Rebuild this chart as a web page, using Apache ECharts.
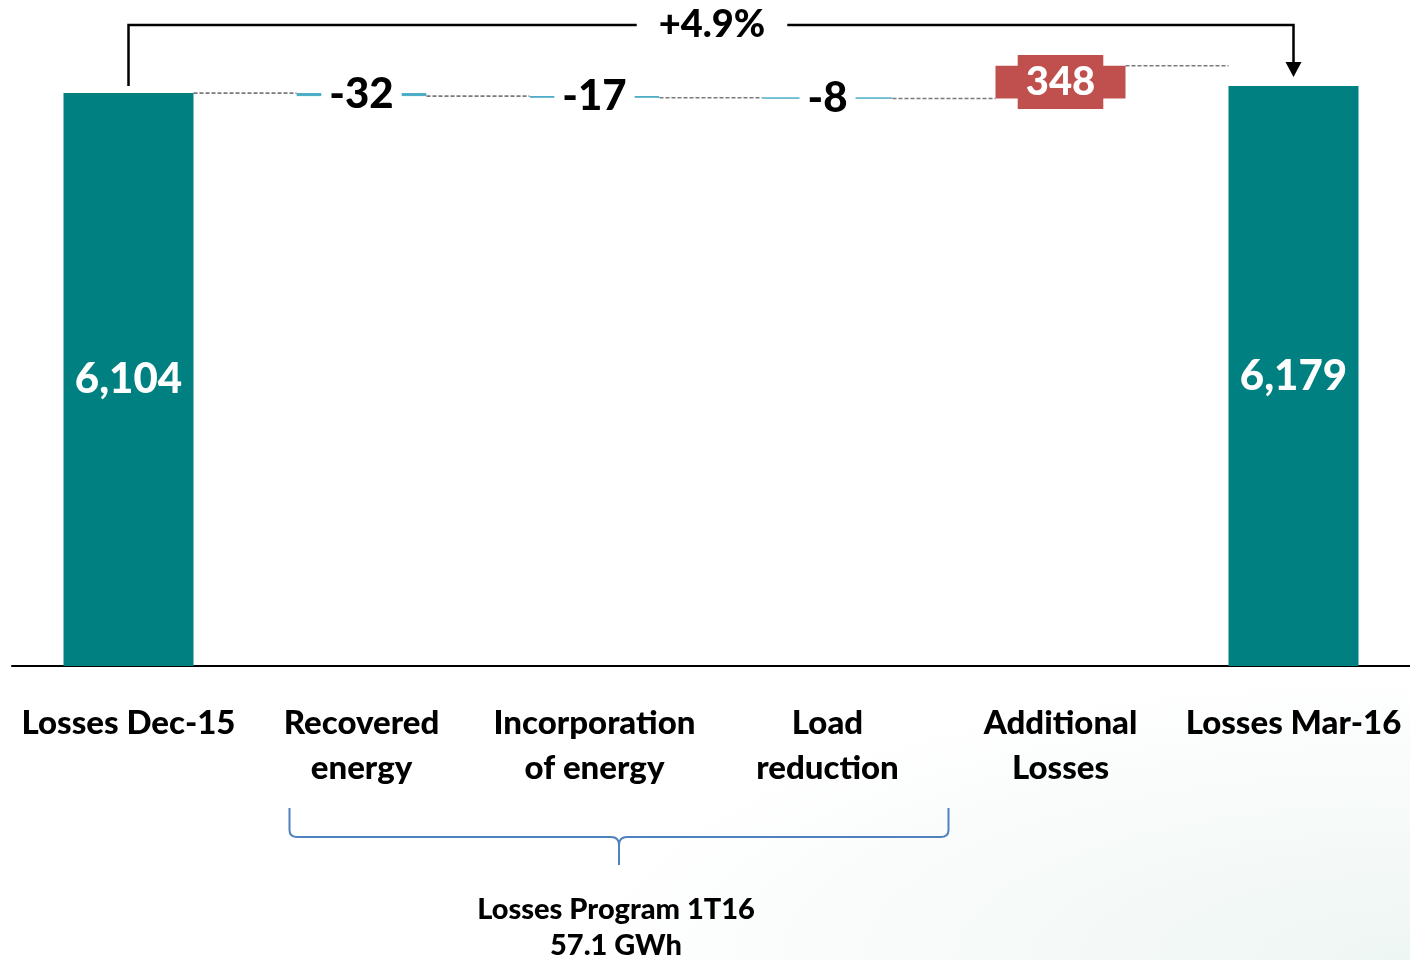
<!DOCTYPE html>
<html>
<head>
<meta charset="utf-8">
<script src="https://cdn.jsdelivr.net/npm/echarts@6/dist/echarts.min.js"></script>
<style>
  html, body { margin: 0; padding: 0; }
  #chart {
    width: 1410px; height: 960px;
    background: radial-gradient(ellipse 60% 30% at 100% 100%, #eef6f3 0%, #f8fbfa 60%, #ffffff 100%);
  }
</style>
</head>
<body>
<div id="chart"></div>
<script>
// Losses bridge: Dec-15 total, program steps, additional losses, Mar-16 total
const categories = ['Losses Dec-15', 'Recovered\nenergy', 'Incorporation\nof energy', 'Load\nreduction', 'Additional\nLosses', 'Losses Mar-16'];
const startValue = 6104;
const endValue = 6179;
const stepValues = [-32, -17, -8, 348];
const changeText = '+4.9%';
const programLines = ['Losses Program 1T16', '57.1 GWh'];

const FONT = 'Lato, "Open Sans", sans-serif';
const W = '900';
const TEAL = '#008080';
const BLUE = '#4BACC6';
const RED = '#C0504D';

// Invisible base + visible segment for each waterfall column
const bases = [0];
const heights = [startValue];
const levels = [startValue];
let running = startValue;
stepValues.forEach(function (d) {
  if (d < 0) { bases.push(running + d); heights.push(-d); }
  else { bases.push(running); heights.push(d); }
  running += d;
  levels.push(running);
});
bases.push(0);
heights.push(endValue);

function fmt(v) { return v.toLocaleString('en-US'); }

const valueData = heights.map(function (h, i) {
  const isTotal = i === 0 || i === heights.length - 1;
  const step = isTotal ? null : stepValues[i - 1];
  let itemStyle = { color: TEAL }, label;
  if (isTotal) {
    label = { show: true, position: 'inside', color: '#fff', fontFamily: FONT, fontWeight: W, fontSize: 42,
              formatter: fmt(i === 0 ? startValue : endValue) };
  } else if (step < 0) {
    itemStyle = { color: BLUE, borderColor: BLUE, borderWidth: 1 };
    label = { show: true, position: 'inside', color: '#000', fontFamily: FONT, fontWeight: W, fontSize: 42,
              backgroundColor: '#fff', padding: [2, 8], formatter: String(step) };
  } else {
    itemStyle = { color: RED };
    label = { show: true, position: 'inside', color: '#fff', fontFamily: FONT, fontWeight: W, fontSize: 40,
              backgroundColor: RED, padding: [8, 8, 6, 8], formatter: String(step) };
  }
  return { value: h, itemStyle: itemStyle, label: label };
});

// Dashed connectors between neighbouring columns
const connectorData = levels.map(function (lv, i) { return [i, lv]; });

const BAR_W = 130;

const chart = echarts.init(document.getElementById('chart'), null, { renderer: 'canvas' });
chart.setOption({
  animation: false,
  backgroundColor: 'transparent',
  grid: { left: 12, right: 0, top: 9, bottom: 294 },
  xAxis: {
    type: 'category',
    data: categories,
    axisLine: { lineStyle: { color: '#000', width: 2 } },
    axisTick: { show: false },
    axisLabel: { color: '#000', fontFamily: FONT, fontWeight: W, fontSize: 33, lineHeight: 45, margin: 35, interval: 0 }
  },
  yAxis: { type: 'value', min: 0, max: 7000, show: false, splitLine: { show: false } },
  series: [
    {
      type: 'bar', stack: 'w', data: bases, barWidth: BAR_W, silent: true,
      itemStyle: { color: 'transparent' }, emphasis: { disabled: true }
    },
    {
      type: 'bar', stack: 'w', data: valueData, barWidth: BAR_W, silent: true,
      emphasis: { disabled: true }, z: 3
    },
    {
      type: 'custom', silent: true, clip: false, z: 2,
      data: connectorData,
      renderItem: function (params, api) {
        const i = api.value(0);
        if (i >= categories.length - 1) return null;
        const a = api.coord([i, api.value(1)]);
        const b = api.coord([i + 1, api.value(1)]);
        return {
          type: 'line',
          shape: { x1: a[0] + BAR_W / 2, y1: a[1], x2: b[0] - BAR_W / 2, y2: a[1] },
          style: { stroke: '#7a7a7a', lineWidth: 1.6, lineDash: [4, 2] }
        };
      }
    },
    {
      // Overall change bracket from the first to the last total
      type: 'custom', silent: true, clip: false, z: 4,
      data: [[0, startValue, categories.length - 1, endValue]],
      renderItem: function (params, api) {
        const p0 = api.coord([api.value(0), api.value(1)]);
        const p1 = api.coord([api.value(2), api.value(3)]);
        const lineY = p0[1] - 68;
        const midX = (p0[0] + p1[0]) / 2;
        return {
          type: 'group',
          children: [
            { type: 'polyline',
              shape: { points: [[p0[0], p0[1] - 7], [p0[0], lineY], [p1[0], lineY], [p1[0], p1[1] - 23]] },
              style: { stroke: '#000', lineWidth: 2.5, fill: null } },
            { type: 'polygon',
              shape: { points: [[p1[0] - 8, p1[1] - 24], [p1[0] + 8, p1[1] - 24], [p1[0], p1[1] - 9]] },
              style: { fill: '#000' } },
            { type: 'text', x: midX + 1, y: lineY,
              style: { text: changeText, fill: '#000', font: W + ' 38px ' + FONT, align: 'center', verticalAlign: 'middle',
                       backgroundColor: '#fff', padding: [2, 22] } }
          ]
        };
      }
    },
    {
      // Brace grouping the program steps, with its caption
      type: 'custom', silent: true, clip: false, z: 4,
      data: [[1, 3]],
      renderItem: function (params, api) {
        const base = api.coord([0, 0])[1];
        const l = api.coord([api.value(0), 0])[0] - 72;
        const r = api.coord([api.value(1), 0])[0] + 121;
        const m = (l + r) / 2;
        const yT = base + 142, yH = base + 171, yB = base + 199;
        const path = 'M' + l + ',' + yT + ' L' + l + ',' + (yH - 7) + ' Q' + l + ',' + yH + ' ' + (l + 8) + ',' + yH +
          ' L' + (m - 8) + ',' + yH + ' Q' + m + ',' + yH + ' ' + m + ',' + (yH + 8) + ' L' + m + ',' + yB +
          ' M' + m + ',' + (yH + 8) + ' Q' + m + ',' + yH + ' ' + (m + 8) + ',' + yH +
          ' L' + (r - 8) + ',' + yH + ' Q' + r + ',' + yH + ' ' + r + ',' + (yH - 7) + ' L' + r + ',' + yT;
        return {
          type: 'group',
          children: [
            { type: 'path', shape: { pathData: path }, style: { stroke: '#4F81BD', lineWidth: 2, fill: null } },
            { type: 'text', x: m - 3, y: base + 244,
              style: { text: programLines[0], fill: '#000', font: W + ' 29px ' + FONT, align: 'center', verticalAlign: 'middle' } },
            { type: 'text', x: m - 3, y: base + 280,
              style: { text: programLines[1], fill: '#000', font: W + ' 29px ' + FONT, align: 'center', verticalAlign: 'middle' } }
          ]
        };
      }
    }
  ]
});
</script>
</body>
</html>
